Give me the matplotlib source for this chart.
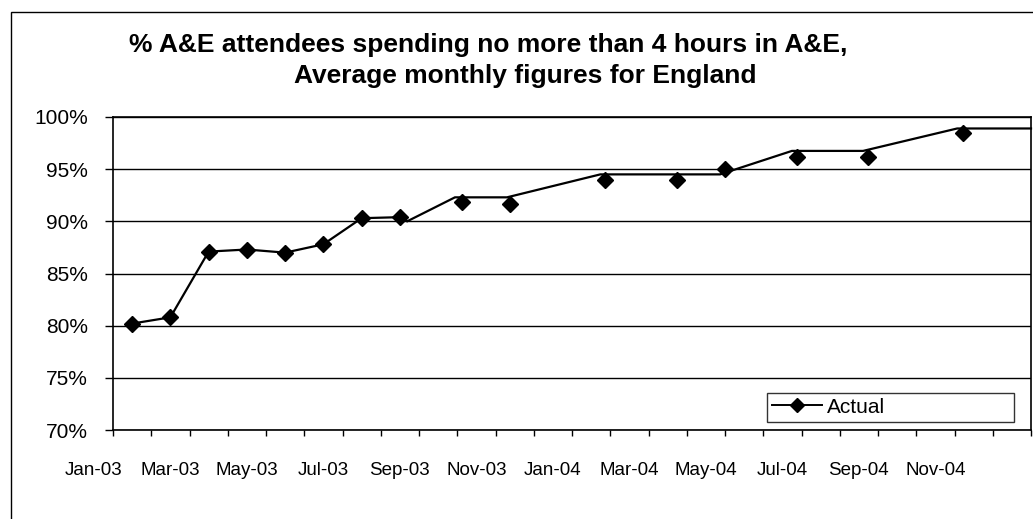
import matplotlib
matplotlib.use("Agg")
import matplotlib.pyplot as plt
from matplotlib.lines import Line2D
from matplotlib.patches import Rectangle
from matplotlib.ticker import FuncFormatter

plt.rcParams['font.family'] = ['Liberation Sans', 'DejaVu Sans']

# Month positions are measured in months from Jan-03
month_labels = ['Jan-03', 'Mar-03', 'May-03', 'Jul-03', 'Sep-03', 'Nov-03',
                'Jan-04', 'Mar-04', 'May-04', 'Jul-04', 'Sep-04', 'Nov-04']
label_pos = [0, 2, 4, 6, 8, 10, 12, 14, 16, 18, 20, 22]

# Actual figures (markers)
actual_month = [1, 2, 3, 4, 5, 6, 7, 8, 9.63, 10.88, 13.37, 15.25, 16.5, 18.39, 20.24, 22.73]
actual_pct = [80.2, 80.8, 87.1, 87.3, 87.0, 87.8, 90.3, 90.4, 91.9, 91.7, 94.0, 94.0, 95.0,
              96.2, 96.2, 98.5]

# Connecting line
line_month = [1, 2, 3, 4, 5, 6, 7, 8, 8.19, 9.44, 10.80, 13.24, 16.37, 18.25, 20.11, 22.57, 24.5]
line_pct = [80.2, 80.8, 87.1, 87.3, 87.0, 87.8, 90.3, 90.4, 90.0, 92.3, 92.3, 94.5, 94.5,
            96.75, 96.75, 98.9, 98.9]

y_ticks = [70, 75, 80, 85, 90, 95, 100]

W, H = 1033, 519
fig = plt.figure(figsize=(W / 100, H / 100), dpi=100)
fig.patch.set_facecolor('white')

# chart area border
fig.patches.append(Rectangle((11 / W, -0.2), 1.2, 1.2 - 12 / H,
                             transform=fig.transFigure, fill=False,
                             edgecolor='black', linewidth=1.0))

ax = fig.add_axes([113 / W, 1 - 430 / H, 918 / W, 313 / H])
ax.set_facecolor('white')

ax.set_xlim(0.5, 24.5)
ax.set_ylim(70, 100)

ax.set_yticks(y_ticks)
ax.yaxis.set_major_formatter(FuncFormatter(lambda v, p: f"{v:.0f}%"))
ax.tick_params(axis='y', direction='out', length=6, width=1.0, pad=12,
               labelsize=15, colors='black')
ax.grid(axis='y', color='black', linewidth=1.0)
ax.set_axisbelow(True)

ax.set_xticks([m + 0.5 for m in range(0, 25)])
ax.set_xticklabels([])
ax.tick_params(axis='x', direction='out', length=4, width=1.0)

for lab, pos in zip(month_labels, label_pos):
    ax.text(pos, -0.128, lab, transform=ax.get_xaxis_transform(),
            ha='center', va='center', fontsize=13.5, clip_on=False)

for s in ax.spines.values():
    s.set_color('black')
    s.set_linewidth(1.2)

ax.plot(line_month, line_pct, color='black', linewidth=1.6, solid_joinstyle='miter',
        clip_on=False, zorder=3)
ax.plot(actual_month, actual_pct, linestyle='none', marker='D', markersize=8,
        color='black', zorder=4)

handle = Line2D([], [], color='black', linewidth=1.4, marker='D', markersize=7.5)
leg = ax.legend([handle], ['Actual'], loc='lower left',
                bbox_to_anchor=(0.712, 0.0256, 0.2695, 0.108), mode='expand',
                borderaxespad=0, fontsize=15, frameon=True, fancybox=False,
                handlelength=2.4, handletextpad=0.25, borderpad=0.25)
leg.get_frame().set_edgecolor('black')
leg.get_frame().set_linewidth(1.0)

fig.text(488 / W, 1 - 52 / H, '% A&E attendees spending no more than 4 hours in A&E,',
         ha='center', va='baseline', fontsize=19, fontweight='bold')
fig.text(525 / W, 1 - 83 / H, 'Average monthly figures for England',
         ha='center', va='baseline', fontsize=19, fontweight='bold')

fig.savefig('out.png', dpi=100, facecolor='white')
